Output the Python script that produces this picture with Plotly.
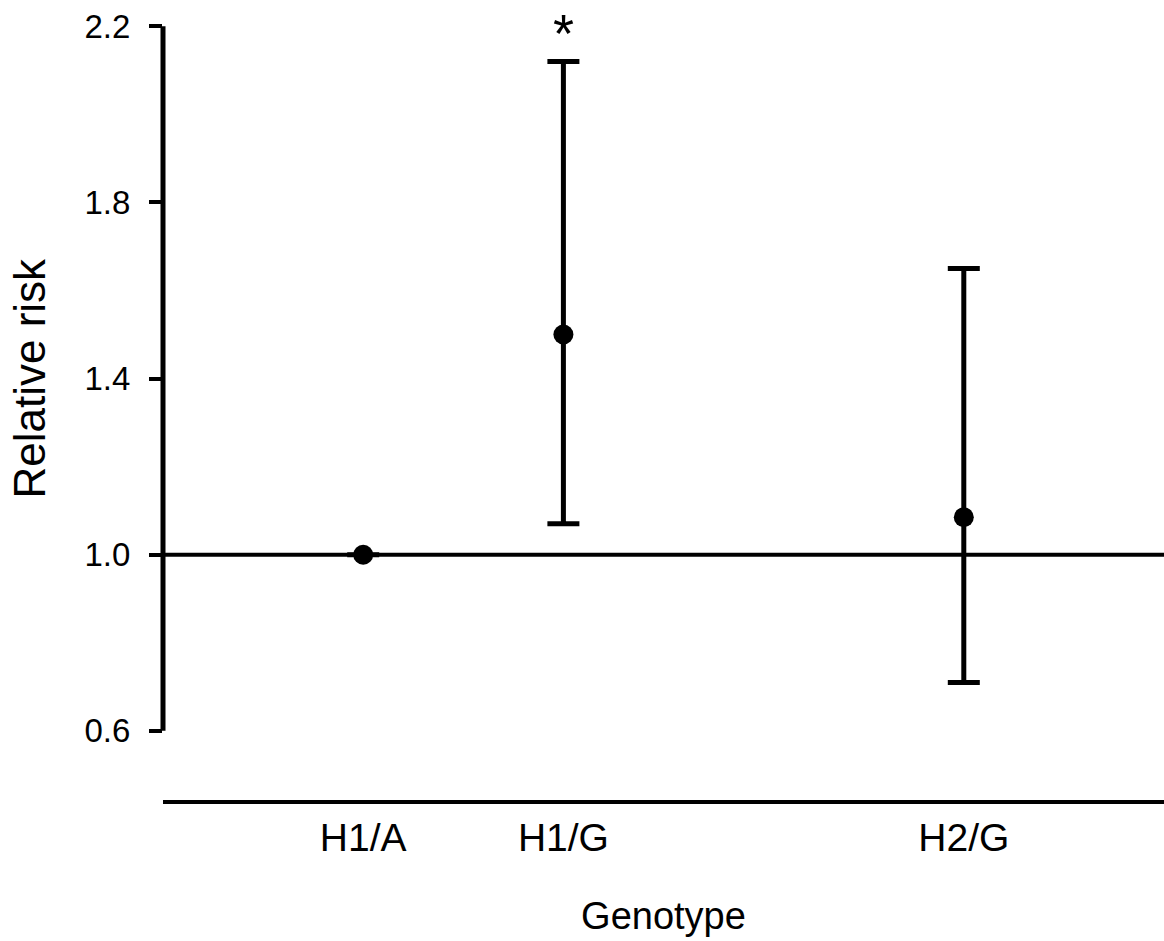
import plotly.graph_objects as go

# ---- data ----
genotypes = ["H1/A", "H1/G", "H2/G"]
x_pos = [1, 2, 4]
relative_risk = [1.00, 1.50, 1.085]
ci_upper = [1.00, 2.12, 1.65]
ci_lower = [1.00, 1.07, 0.71]
significant = [False, True, False]
y_ticks = [0.6, 1.0, 1.4, 1.8, 2.2]

FONT = "Arial, Liberation Sans, sans-serif"

err_plus = [u - v for u, v in zip(ci_upper, relative_risk)]
err_minus = [v - l for v, l in zip(relative_risk, ci_lower)]

fig = go.Figure()
fig.add_trace(go.Scatter(
    x=x_pos, y=relative_risk, mode="markers",
    marker=dict(color="black", size=20),
    error_y=dict(type="data", symmetric=False, array=err_plus,
                 arrayminus=err_minus, color="black", thickness=5, width=16),
    cliponaxis=False, showlegend=False,
))

# reference line at RR = 1
fig.add_shape(type="line", xref="paper", x0=0, x1=1, yref="y", y0=1.0, y1=1.0,
              line=dict(color="black", width=4), layer="below")
# y axis line spanning the tick range
fig.add_shape(type="line", xref="paper", x0=0, x1=0, yref="y",
              y0=y_ticks[0], y1=y_ticks[-1], line=dict(color="black", width=5))

# significance asterisk
for xp, up, sig in zip(x_pos, ci_upper, significant):
    if sig:
        fig.add_annotation(x=xp, y=up, text="*", showarrow=False, yanchor="bottom",
                           yshift=-4, font=dict(family=FONT, size=54, color="black"))

# y axis title, centred on the y axis line
fig.add_annotation(xref="paper", x=0, xshift=-133, yref="y",
                   y=(y_ticks[0] + y_ticks[-1]) / 2, text="Relative risk",
                   textangle=-90, showarrow=False, xanchor="center", yanchor="middle",
                   font=dict(family=FONT, size=44, color="black"))

fig.update_layout(
    width=1164, height=941,
    margin=dict(l=163, r=0, t=26, b=141),
    paper_bgcolor="white", plot_bgcolor="white",
    font=dict(family=FONT, color="black"),
    xaxis=dict(range=[0, 5], tickvals=x_pos, ticktext=genotypes,
               showgrid=False, zeroline=False, showline=True, linecolor="black",
               linewidth=4, ticks="", tickfont=dict(size=39),
               title=dict(text="Genotype", font=dict(size=38), standoff=46)),
    yaxis=dict(range=[0.443, 2.2005], tickvals=y_ticks, tickformat=".1f",
               showgrid=False, zeroline=False, showline=False,
               ticks="outside", ticklen=13, tickwidth=4, tickcolor="black",
               ticklabelstandoff=12, tickfont=dict(size=33)),
)

fig.write_html("out.html", config={"displayModeBar": False},
               post_script="document.body.style.margin='0';document.body.style.overflow='hidden';")
